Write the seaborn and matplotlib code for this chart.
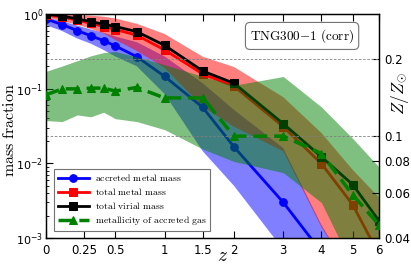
import numpy as np
import pandas as pd
import matplotlib
matplotlib.use("Agg")
import matplotlib.pyplot as plt
import seaborn as sns
from matplotlib.ticker import FixedLocator, FixedFormatter, NullLocator, LogLocator

# ---------------- data ----------------
z = [0, 0.1, 0.2, 0.3, 0.4, 0.5, 0.7, 1, 1.5, 2, 3, 4, 5, 6]

acc_metal = [0.857, 0.72, 0.60, 0.51, 0.44, 0.373, 0.268, 0.146, 0.056, 0.0166, 0.0030, 0.00065, 0.0002, 0.0001]
acc_lo = [0.71, 0.59, 0.47, 0.40, 0.33, 0.27, 0.20, 0.085, 0.0145, 0.005, 0.0007, 0.0002, 0.0001, 0.0001]
acc_hi = [0.90, 0.80, 0.70, 0.62, 0.56, 0.50, 0.42, 0.27, 0.118, 0.052, 0.016, 0.0015, 0.0003, 0.0001]

tot_metal = [0.97, 0.91, 0.83, 0.75, 0.68, 0.62, 0.52, 0.33, 0.157, 0.108, 0.031, 0.0099, 0.0028, 0.0006]
tot_lo = [0.90, 0.80, 0.72, 0.63, 0.55, 0.45, 0.32, 0.19, 0.057, 0.031, 0.0145, 0.0014, 0.0003, 0.0001]
tot_hi = [1.05, 1.00, 0.97, 0.95, 0.92, 0.87, 0.74, 0.54, 0.268, 0.195, 0.077, 0.0255, 0.0082, 0.0035]

vir_mass = [1.0, 0.94, 0.86, 0.79, 0.73, 0.68, 0.58, 0.38, 0.172, 0.118, 0.034, 0.0122, 0.0052, 0.0017]

metallicity = [0.145, 0.153, 0.153, 0.154, 0.154, 0.150, 0.155, 0.141, 0.141, 0.100, 0.100, 0.0855, 0.059, 0.045]
met_lo = [0.115, 0.114, 0.121, 0.119, 0.124, 0.117, 0.114, 0.106, 0.089, 0.0796, 0.072, 0.055, 0.031, 0.030]
met_hi = [0.179, 0.188, 0.197, 0.206, 0.212, 0.214, 0.204, 0.190, 0.171, 0.158, 0.171, 0.130, 0.098, 0.0757]

xticks = [0, 0.25, 0.5, 1, 1.5, 2, 3, 4, 5, 6]
xticklabels = ["0", "0.25", "0.5", "1", "1.5", "2", "3", "4", "5", "6"]
rticks = [0.04, 0.06, 0.08, 0.1, 0.2]
rticklabels = ["0.04", "0.06", "0.08", "0.1", "0.2"]
ref_levels = [0.1, 0.2]

labels = [r"$\mathrm{accreted\ metal\ mass}$", r"$\mathrm{total\ metal\ mass}$",
          r"$\mathrm{total\ virial\ mass}$", r"$\mathrm{metallicity\ of\ accreted\ gas}$"]

df = pd.DataFrame(dict(z=z, acc=acc_metal, tot=tot_metal, vir=vir_mass, met=metallicity))

# ---------------- style ----------------
plt.rcParams.update({
    "font.family": ["DejaVu Sans"],
    "mathtext.fontset": "cm",
    "xtick.direction": "in",
    "ytick.direction": "in",
    "xtick.major.size": 5,
    "ytick.major.size": 5,
    "xtick.minor.size": 2.5,
    "ytick.minor.size": 2.5,
    "xtick.labelsize": 8.5,
    "ytick.labelsize": 8.5,
    "axes.linewidth": 0.9,
})

fig = plt.figure(figsize=(4.11, 2.74), dpi=100)
ax = fig.add_axes([46 / 411, 1 - 238 / 274, 333 / 411, 224 / 274])

fwd = lambda v: np.log10(1 + np.asarray(v, dtype=float))
inv = lambda u: 10 ** np.asarray(u, dtype=float) - 1
ax.set_xscale("function", functions=(fwd, inv))
ax.set_yscale("log")

# bands (left axis)
ax.fill_between(z, acc_lo, acc_hi, color="blue", alpha=0.5, lw=0, zorder=1)
ax.fill_between(z, tot_lo, tot_hi, color="red", alpha=0.5, lw=0, zorder=1.1)

sns.lineplot(data=df, x="z", y="acc", ax=ax, color="blue", marker="o", markersize=5.5,
             markeredgecolor="blue", linewidth=2, label=labels[0], zorder=3)
sns.lineplot(data=df, x="z", y="tot", ax=ax, color="red", marker="s", markersize=5.5,
             markeredgecolor="red", linewidth=2, label=labels[1], zorder=3)
sns.lineplot(data=df, x="z", y="vir", ax=ax, color="black", marker="s", markersize=5.5,
             markeredgecolor="black", linewidth=2, label=labels[2], zorder=3)
if ax.get_legend() is not None:
    ax.get_legend().remove()

ax.set_xlim(0, 6)
ax.set_ylim(1e-3, 1)
ax.xaxis.set_major_locator(FixedLocator(xticks))
ax.xaxis.set_major_formatter(FixedFormatter(xticklabels))
ax.xaxis.set_minor_locator(NullLocator())
ax.yaxis.set_major_locator(LogLocator(base=10, numticks=10))
ax.yaxis.set_minor_locator(LogLocator(base=10, subs=np.arange(2, 10), numticks=10))
ax.tick_params(axis="x", which="both", top=True, pad=4)
ax.tick_params(axis="y", which="both", right=False, pad=2, labelsize=8)
ax.set_xlabel(r"$z$", fontsize=14)
ax.xaxis.set_label_coords(0.53, -0.036)
ax.set_ylabel(r"$\mathrm{mass\ fraction}$", fontsize=11.5)
ax.yaxis.set_label_coords(-0.086, 0.48)

# right axis: metallicity
ax2 = ax.twinx()
ax2.set_yscale("log")
ax2.fill_between(z, met_lo, met_hi, color="green", alpha=0.5, lw=0, zorder=1)
for lv in ref_levels:
    ax2.axhline(lv, color="0.5", ls="--", lw=0.6, dashes=(3, 2), zorder=2)
sns.lineplot(data=df, x="z", y="met", ax=ax2, color="green", marker="^", markersize=6,
             markeredgecolor="green", linewidth=2.5, linestyle="--", dashes=False,
             label=labels[3], zorder=3)
if ax2.get_legend() is not None:
    ax2.get_legend().remove()
for l in ax2.get_lines():
    if l.get_color() == "green":
        l.set_dashes((4, 2))
ax2.set_ylim(0.04, 0.3)
ax2.yaxis.set_major_locator(FixedLocator(rticks))
ax2.yaxis.set_major_formatter(FixedFormatter(rticklabels))
ax2.yaxis.set_minor_locator(NullLocator())
ax2.set_xlim(0, 6)
ax2.set_ylabel(r"$Z/Z_{\odot}$", fontsize=12.5, rotation=90)
ax2.yaxis.set_label_coords(1.03, 0.645)
ax2.set_xlabel("")

h1, _ = ax.get_legend_handles_labels()
h2, _ = ax2.get_legend_handles_labels()
leg = ax2.legend(h1 + h2, labels, loc="lower left", bbox_to_anchor=(0.024, 0.031),
                 borderaxespad=0, fontsize=7, handlelength=3.2, numpoints=1,
                 fancybox=False, edgecolor="0.45", framealpha=1, labelspacing=0.3,
                 borderpad=0.4, handletextpad=0.6)
leg.get_frame().set_linewidth(0.8)

ax2.text(0.769, 0.902, r"$\mathrm{TNG300{-}1\ (corr)}$", transform=ax.transAxes,
         ha="center", va="center", fontsize=9.5, zorder=10,
         bbox=dict(boxstyle="round,pad=0.35", fc="white", ec="0.45", lw=0.8))

fig.savefig("out.png", dpi=100)
